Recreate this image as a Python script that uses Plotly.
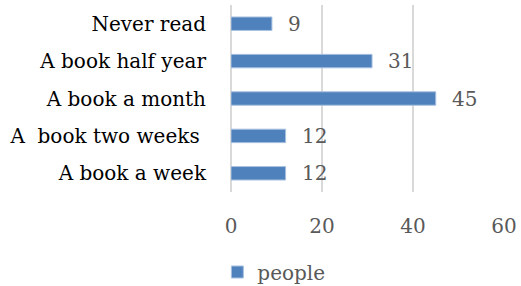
import plotly.graph_objects as go

categories = ["A book a week", "A  book two weeks ", "A book a month", "A book half year", "Never read"]
people = [12, 12, 45, 31, 9]
x_ticks = [0, 20, 40, 60]
series_name = "people"

FONT = "DejaVu Serif"

fig = go.Figure()
fig.add_trace(go.Bar(
    x=people, y=categories, orientation="h", name=series_name,
    marker=dict(color="#4F81BD", line=dict(color="#A9C1E0", width=1)),
    showlegend=True,
))
for c, v in zip(categories, people):
    fig.add_annotation(x=v, y=c, text=str(v), showarrow=False, xanchor="left",
                       xshift=14, font=dict(family=FONT, size=20, color="#595959"))

fig.update_layout(
    width=521, height=286,
    margin=dict(l=231, r=17, t=5, b=94),
    plot_bgcolor="white", paper_bgcolor="white",
    bargap=0.64,
    font=dict(family=FONT, size=20, color="#595959"),
    xaxis=dict(range=[0, 60], tickvals=x_ticks, showgrid=True, gridcolor="#D9D9D9", gridwidth=1.5,
               zeroline=True, zerolinecolor="#D9D9D9", zerolinewidth=1.5,
               ticks="outside", ticklen=16, tickcolor="rgba(0,0,0,0)", automargin=False,
               tickfont=dict(family=FONT, size=20, color="#595959"), fixedrange=True),
    yaxis=dict(categoryorder="array", categoryarray=categories, showgrid=False,
               ticks="outside", ticklen=20, tickcolor="rgba(0,0,0,0)", automargin=False,
               tickfont=dict(family=FONT, size=20, color="#000000"), showline=False,
               fixedrange=True),
    legend=dict(orientation="h", x=-0.05, xanchor="left", xref="paper",
                yref="container", y=0.049, yanchor="middle",
                font=dict(family=FONT, size=20, color="#595959")),
)
fig.write_html("out.html", config={"displayModeBar": False},
               post_script="document.body.style.margin='0';")
